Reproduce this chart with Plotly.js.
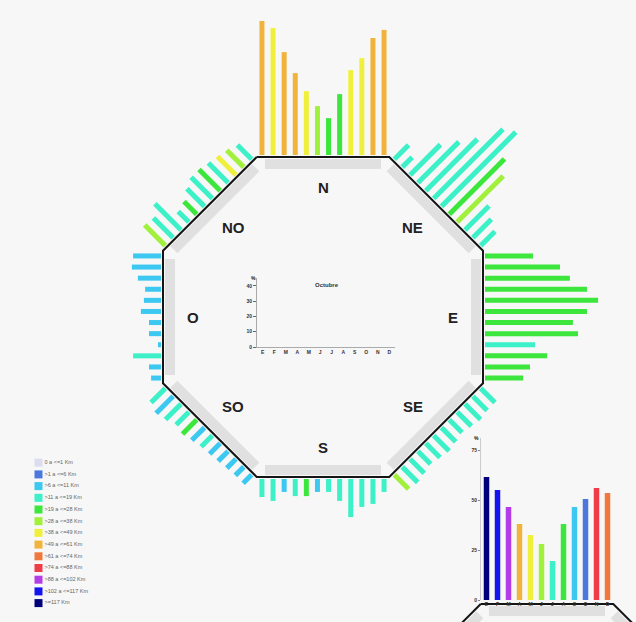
<!DOCTYPE html>
<html><head><meta charset="utf-8">
<script src="https://cdn.plot.ly/plotly-3.0.1.min.js"></script>
<style>html,body{margin:0;padding:0;background:#f7f7f7}#chart{width:636px;height:622px}</style>
</head><body><div id="chart"></div>
<script>
// ---------- DATA ----------
const months = ["E","F","M","A","M","J","J","A","S","O","N","D"];
const directions = ["N","NE","E","SE","S","SO","O","NO"];
// wind frequency (%) per month for each direction
const freqN  = [44.7,42.3,34.3,27.3,21.3,16.3,12.3,20.3,28.3,32.3,39.0,41.7];
const freqNE = [6.7,4.7,14.3,19.3,24.3,32.7,35.0,26.0,21.7,11.3,8.7,6.7];
const freqE  = [16.0,25.0,28.3,34.0,37.7,34.0,29.3,31.0,16.7,20.7,15.0,12.7];
const freqSE = [6.7,6.7,7.3,6.7,6.0,6.7,7.3,6.7,6.0,6.7,7.3,6.7];
const freqS  = [4.3,8.3,9.3,12.7,7.3,4.3,4.3,5.7,5.7,4.3,7.3,6.0];
const freqSO = [4.0,4.0,4.3,4.7,5.0,5.3,6.0,6.7,6.0,7.3,8.0,6.7];
const freqO  = [3.3,4.0,9.3,1.0,4.0,4.0,6.7,5.7,5.3,7.7,9.7,9.3];
const freqNO = [9.7,9.3,12.3,5.0,6.0,8.3,10.0,10.0,9.3,8.7,8.0,6.7];
// mean speed class (index into speedLabels) per month for each direction
const catN  = [7,6,7,7,6,5,4,4,6,6,7,7];
const catNE = [3,3,3,3,3,3,3,4,5,3,3,3];
const catE  = [4,4,4,4,4,4,4,4,3,4,4,4];
const catSE = [3,3,3,3,3,3,3,3,3,3,3,5];
const catS  = [3,3,3,3,3,3,2,4,3,2,3,3];
const catSO = [2,2,2,2,2,3,2,4,3,3,2,3];
const catO  = [2,2,3,2,2,2,2,2,2,2,2,2];
const catNO = [5,3,3,3,4,3,3,4,3,6,5,3];
// speed classes
const speedLabels = ["0 a <=1 Km",">1 a <=6 Km",">6 a <=11 Km",">11 a <=19 Km",">19 a <=28 Km",">28 a <=38 Km",">38 a <=49 Km",">49 a <=61 Km",">61 a <=74 Km",">74 a <=88 Km",">88 a <=102 Km",">102 a <=117 Km",">=117 Km"];
const speedColors = ["#dcdcf0","#4a78dc","#3cc8f0","#3cf0c8","#3ce63c","#a0f03c","#f0f03c","#f0b43c","#f0783c","#f03c46","#b43ce6","#1414f0","#00007a"];
// monthly chart (bottom right)
const monthlyValue = [61.5,55.0,46.5,38.0,32.5,28.0,19.5,38.0,46.5,50.5,56.0,53.5];
const monthlyCat   = [12,11,10,7,6,5,3,4,2,1,9,8];
// central chart (Octubre) - empty
const centerValues = [null,null,null,null,null,null,null,null,null,null,null,null];
const centerTitle = "Octubre";

// ---------- GEOMETRY (styling) ----------
const W = 636, H = 622;
const C = {x:323, y:317};
const APO = 160;          // octagon apothem
const K = 3;              // px per %
const BASE = 162, SP = 11.1;
const freqs = [freqN,freqNE,freqE,freqSE,freqS,freqSO,freqO,freqNO];
const cats  = [catN,catNE,catE,catSE,catS,catSO,catO,catNO];
const rad = d => d*Math.PI/180;

const traces = [];
function octagon(cx, cy) {
  const R = APO/Math.cos(rad(22.5));
  const bx=[], by=[], gx=[], gy=[];
  for (let d=0; d<=8; d++) {
    const th = rad(90 - 45*d + 22.5);
    bx.push(cx + R*Math.cos(th)); by.push(cy - R*Math.sin(th));
  }
  for (let d=0; d<8; d++) {
    const th = rad(90 - 45*d);
    const u = [Math.cos(th), -Math.sin(th)], v = [Math.sin(th), Math.cos(th)];
    const r = 153, h = 58;
    gx.push(cx+u[0]*r-v[0]*h, cx+u[0]*r+v[0]*h, null);
    gy.push(cy+u[1]*r-v[1]*h, cy+u[1]*r+v[1]*h, null);
  }
  traces.push({x:gx,y:gy,mode:'lines',line:{color:'#e0e0e0',width:10},hoverinfo:'skip',xaxis:'x',yaxis:'y'});
  traces.push({x:bx,y:by,mode:'lines',line:{color:'#151515',width:2},hoverinfo:'skip',xaxis:'x',yaxis:'y'});
}
octagon(C.x, C.y);
octagon(547, 764);

// rose bars grouped by colour class
const segX = speedColors.map(()=>[]), segY = speedColors.map(()=>[]);
freqs.forEach((arr, d) => {
  const th = rad(90 - 45*d);
  const u = [Math.cos(th), -Math.sin(th)], v = [Math.sin(th), Math.cos(th)];
  arr.forEach((val, i) => {
    const c = cats[d][i];
    const t = (i-5.5)*SP;
    const x0 = C.x + u[0]*BASE + v[0]*t, y0 = C.y + u[1]*BASE + v[1]*t;
    segX[c].push(x0, x0 + u[0]*val*K, null);
    segY[c].push(y0, y0 + u[1]*val*K, null);
  });
});
speedColors.forEach((col, c) => {
  if (segX[c].length) traces.push({x:segX[c],y:segY[c],mode:'lines',line:{color:col,width:5},hoverinfo:'skip',xaxis:'x',yaxis:'y'});
});

// legend drawn as markers + text
traces.push({
  x: speedLabels.map(()=>38.5),
  y: speedLabels.map((_,k)=>462.7 + k*11.7),
  mode:'markers+text',
  marker:{symbol:'square', size:8, color:speedColors},
  text: speedLabels.map(s=>s.replace(/</g,'&lt;').replace(/>/g,'&gt;')),
  textposition:'middle right',
  textfont:{size:5.5, color:'#666', family:'Liberation Sans, Arial'},
  hoverinfo:'skip', xaxis:'x', yaxis:'y'
});

// central chart (empty)
traces.push({type:'bar', x:months.map((_,i)=>i), y:centerValues, xaxis:'x2', yaxis:'y2', marker:{color:'#888'}});
// bottom-right monthly chart
traces.push({type:'bar', x:months.map((_,i)=>i), y:monthlyValue, width:0.5, xaxis:'x3', yaxis:'y3',
  marker:{color:monthlyCat.map(c=>speedColors[c])}, hoverinfo:'skip'});

const annotations = directions.map((name, d) => {
  const th = rad(90 - 45*d);
  const r = (d%2===0) ? 130 : 127;
  return {x:C.x + r*Math.cos(th), y:C.y - r*Math.sin(th), xref:'x', yref:'y', text:'<b>'+name+'</b>',
    showarrow:false, font:{family:'Liberation Sans, Arial', size:15, color:'#222'}};
});
annotations.push({x:327,y:285,xref:'x',yref:'y',text:'<b>'+centerTitle+'</b>',showarrow:false,font:{size:6,color:'#333',family:'Liberation Sans, Arial'}});
annotations.push({x:253,y:278,xref:'x',yref:'y',text:'<b>%</b>',showarrow:false,font:{size:5,color:'#333'}});
annotations.push({x:476,y:438,xref:'x',yref:'y',text:'<b>%</b>',showarrow:false,font:{size:5,color:'#333'}});

const tickFont = {size:5, color:'#333', family:'Liberation Sans, Arial', weight:'bold'};
const layout = {
  width:W, height:H, margin:{l:0,r:0,t:0,b:0},
  paper_bgcolor:'#f7f7f7', plot_bgcolor:'rgba(0,0,0,0)', showlegend:false,
  xaxis:{domain:[0,1], range:[0,W], visible:false, fixedrange:true},
  yaxis:{domain:[0,1], range:[H,0], visible:false, fixedrange:true},
  xaxis2:{domain:[257/W,395/W], anchor:'y2', range:[-0.5,11.5], tickvals:months.map((_,i)=>i), ticktext:months,
    showline:true, linecolor:'#aaa', linewidth:1, tickfont:tickFont, ticks:'', showgrid:false, zeroline:false, fixedrange:true},
  yaxis2:{domain:[(H-347)/H,(H-278)/H], anchor:'x2', range:[0,45.2], tickvals:[0,10,20,30,40],
    showline:true, linecolor:'#aaa', linewidth:1, tickfont:tickFont, ticks:'outside', ticklen:3, tickcolor:'#666',
    showgrid:false, zeroline:false, fixedrange:true},
  xaxis3:{domain:[481/W,613/W], anchor:'y3', range:[-0.5,11.5], tickvals:months.map((_,i)=>i), ticktext:months,
    showline:false, tickfont:tickFont, ticks:'', showgrid:false, zeroline:false, fixedrange:true},
  yaxis3:{domain:[(H-600)/H,(H-438)/H], anchor:'x3', range:[0,81], tickvals:[0,25,50,75],
    showline:true, linecolor:'#ccc', linewidth:1, tickfont:tickFont, ticks:'outside', ticklen:2, tickcolor:'#888',
    showgrid:false, zeroline:false, fixedrange:true},
  annotations
};
Plotly.newPlot('chart', traces, layout, {staticPlot:true});
</script>
</body></html>
